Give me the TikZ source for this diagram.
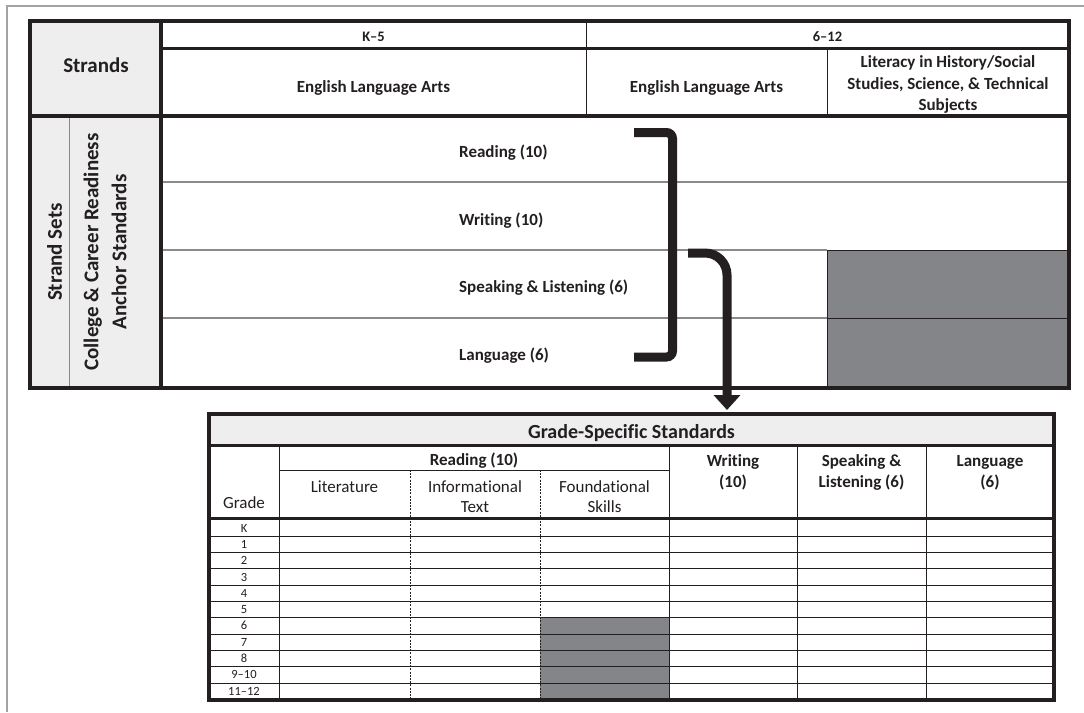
\documentclass[tikz,border=0pt]{standalone}
\usepackage{fontspec}
\setmainfont{Carlito}[Ligatures=NoCommon]
\usetikzlibrary{arrows.meta}
\definecolor{ink}{HTML}{231F20}
\definecolor{lightfill}{HTML}{EEEEEE}
\definecolor{darkcell}{HTML}{848589}
\definecolor{framegray}{HTML}{A3A3A3}
\definecolor{rulegray}{HTML}{8A8A8A}
\newcommand\mlines[1]{\vtop{\halign{\hfil##\hfil\cr#1\crcr}}}
\tikzset{
  rheavy/.style={ink, line width=4pt},
  rmedium/.style={ink, line width=3pt},
  rfine/.style={ink, line width=0.9pt},
  rsoft/.style={rulegray, line width=1.3pt},
  rdash/.style={ink, line width=0.7pt, dash pattern=on 2pt off 1.2pt},
  rlbl/.style={inner sep=0pt, text=ink, font=\fontsize{17}{21.3}\selectfont\bfseries},
  rbig/.style={inner sep=0pt, text=ink, font=\fontsize{21}{28}\selectfont\bfseries},
  rsmall/.style={inner sep=0pt, text=ink, font=\fontsize{14.5}{17}\selectfont\bfseries},
  rplain/.style={inner sep=0pt, text=ink, font=\fontsize{17}{20.5}\selectfont},
  rrow/.style={inner sep=0pt, text=ink, font=\fontsize{12.5}{15}\selectfont},
  rtitle/.style={inner sep=0pt, text=ink, font=\fontsize{20}{24}\selectfont\bfseries},
  rlink/.style={ink, line width=9pt},
}
\begin{document}
\begin{tikzpicture}[x=1pt,y=-1pt]
\useasboundingbox (0,0) rectangle (1084,712);
\fill[white] (0,0) rectangle (1084,712);
% outer page frame
\draw[framegray, line width=2.5pt] (7,712) -- (7,6) -- (1084,6);

% ---------------- top table ----------------
\fill[lightfill] (30,21) rectangle (161,388);
\fill[darkcell] (827,250) rectangle (1069,388);
\draw[rsoft] (161,182) -- (1069,182);
\draw[rsoft] (161,250) -- (827,250);
\draw[rsoft] (161,318) -- (827,318);
\draw[rfine] (827,250) -- (1069,250);
\draw[rfine] (827,318) -- (1069,318);
\draw[rfine] (827,250) -- (827,388);
\draw[rfine] (586,21) -- (586,116);
\draw[rfine] (827,48) -- (827,116);
\draw[rulegray, line width=1pt] (69,116) -- (69,388);
\draw[rmedium] (161,48) -- (1069,48);
\draw[rheavy] (30,116) -- (1069,116);
\draw[rheavy] (161,21) -- (161,388);
\draw[rheavy] (30,21) rectangle (1069,388);

\node[rsmall, anchor=base] (k5) at (373.5,41.5) {K–5};
\node[rsmall, anchor=base] (sixtwelve) at (827.5,41.5) {6–12};
\node[rlbl, anchor=base] (elaA) at (373.5,92) {English Language Arts};
\node[rlbl, anchor=base] (elaB) at (706.5,92) {English Language Arts};
\node[rlbl, anchor=base] (literacy) at (948,67.7) {\mlines{Literacy in History/Social\cr Studies, Science, \& Technical\cr Subjects}};
\node[rbig, anchor=base] (strands) at (96,72) {Strands};
\node[rbig, rotate=90] (strandsets) at (54.5,252) {Strand Sets};
\node[rbig, rotate=90] (ccr) at (105,252) {\mlines{College \& Career Readiness\cr Anchor Standards}};

\node[rlbl, anchor=base west] (reading) at (459,157) {Reading (10)};
\node[rlbl, anchor=base west] (writing) at (459,225) {Writing (10)};
\node[rlbl, anchor=base west] (speaking) at (459,292) {Speaking \& Listening (6)};
\node[rlbl, anchor=base west] (language) at (459,360) {Language (6)};

% bracket grouping the strands
\coordinate (brA) at (634,132.5);
\coordinate (brB) at (672.5,132.5);
\coordinate (brC) at (672.5,357);
\coordinate (brD) at (634,357);
\draw[rlink, rounded corners=6pt] (brA) -- (brB) -- (brC) -- (brD);

% arrow to the grade-specific table
\coordinate (arA) at (688,253);
\coordinate (arB) at (727,253);
\coordinate (arC) at (727,410);
\draw[rlink, rounded corners=22pt, -{Triangle[width=26pt,length=15pt]}] (arA) -- (arB) -- (arC);

% ---------------- bottom table ----------------
\fill[lightfill] (209,414) rectangle (1054,445);
\fill[darkcell] (540,617.8) rectangle (669,699.3);
\foreach \i in {1,...,10} {
  \draw[rfine] (209,{520+16.3*\i}) -- (1054,{520+16.3*\i});
}
\draw[rfine] (279,470) -- (669,470);
\draw[rfine] (279,445) -- (279,700);
\draw[rfine] (669,445) -- (669,700);
\draw[rfine] (797,445) -- (797,700);
\draw[rfine] (926,445) -- (926,700);
\draw[rdash] (410,470) -- (410,700);
\draw[rdash] (540,470) -- (540,700);
\draw[rmedium] (209,445) -- (1054,445);
\draw[rmedium] (209,518) -- (1054,518);
\draw[rheavy] (209,414) rectangle (1054,700);

\node[rtitle, anchor=base] (gss) at (631.5,438) {Grade-Specific Standards};
\node[rlbl, anchor=base] (breading) at (474,465) {Reading (10)};
\node[rplain, anchor=base] (literature) at (344.5,492) {Literature};
\node[rplain, anchor=base] (info) at (475,492) {\mlines{Informational\cr Text}};
\node[rplain, anchor=base] (found) at (604.5,492) {\mlines{Foundational\cr Skills}};
\node[rplain, anchor=base] (grade) at (244,508) {Grade};
\node[rlbl, anchor=base] (bwriting) at (733,466) {\mlines{Writing\cr (10)}};
\node[rlbl, anchor=base] (bspeak) at (861.5,466) {\mlines{Speaking \&\cr Listening (6)}};
\node[rlbl, anchor=base] (blang) at (990,466) {\mlines{Language\cr (6)}};

\foreach \lab [count=\i from 0] in {K,1,2,3,4,5,6,7,8,9–10,11–12} {
  \node[rrow, anchor=base] (row\i) at (244,{528.15+16.3*\i+4}) {\lab};
}
\end{tikzpicture}
\end{document}
